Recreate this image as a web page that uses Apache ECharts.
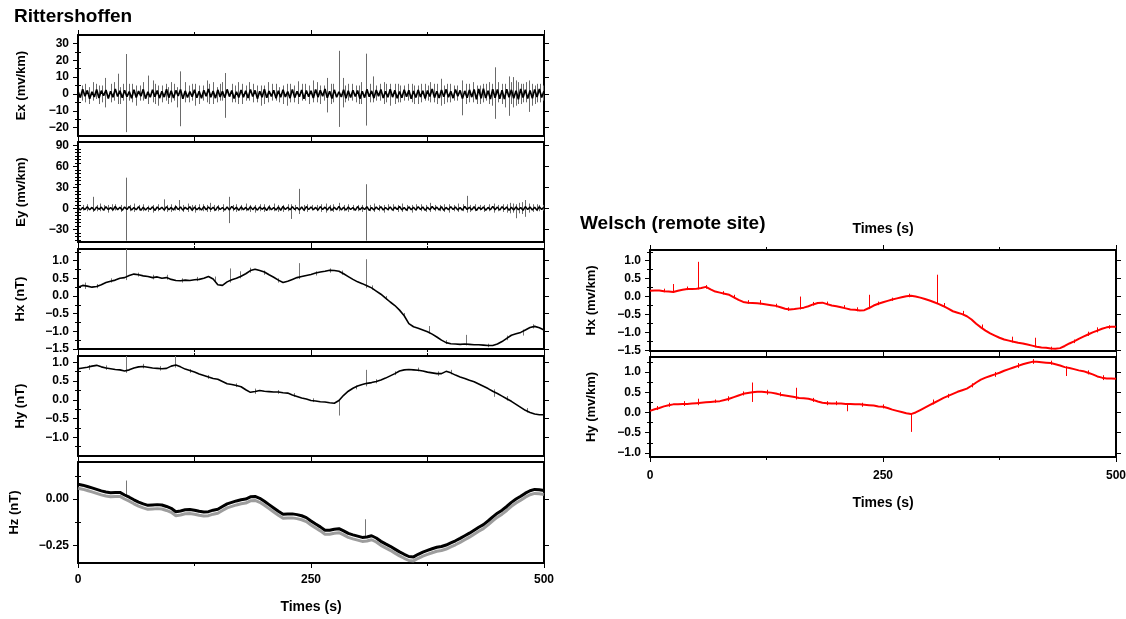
<!DOCTYPE html>
<html><head><meta charset="utf-8">
<script src="https://cdn.jsdelivr.net/npm/echarts@6/dist/echarts.min.js"></script>
<style>html,body{margin:0;padding:0;background:#fff}#c{width:1126px;height:619px}</style>
</head><body><div id="c"></div><script>
// ---------------- DATA ----------------
const STEP_E = 2.5;   // seconds between E samples
const STEP_H = 5;     // seconds between H samples

const EX_NOISE = [
1.5,-2.2,2.8,-1.4,2.1,-2.9,1.2,-1.8,2.6,-2.4,1.9,-1.1,2.3,-2.7,1.6,-2.0,2.9,-1.5,1.8,-2.3,
2.2,-1.7,1.4,-2.6,2.5,-2.1,1.7,-1.3,2.7,-2.8,1.3,-2.0,2.4,-1.6,2.0,-2.5,1.5,-1.9,2.8,-2.2,
1.9,-2.4,2.1,-1.2,2.6,-2.9,1.8,-2.1,1.4,-1.7,2.5,-2.3,1.6,-2.6,2.2,-1.4,2.9,-2.0,1.7,-2.5,
2.4,-1.8,1.5,-2.2,2.7,-1.6,2.0,-2.7,1.3,-2.1,2.3,-1.9,1.8,-2.4,2.6,-1.5,2.1,-2.8,1.6,-2.0,
2.8,-2.3,1.7,-1.5,2.2,-2.6,1.9,-2.0,2.5,-1.8,1.4,-2.5,2.7,-2.2,1.5,-1.7,2.3,-2.9,2.0,-1.6,
1.8,-2.4,2.6,-1.9,2.1,-1.4,2.9,-2.3,1.6,-2.7,2.4,-2.0,1.3,-1.8,2.5,-2.6,1.9,-2.1,2.2,-1.5,
2.0,-2.8,1.6,-2.2,2.7,-1.7,1.8,-2.5,2.3,-1.3,2.6,-2.4,1.5,-2.0,2.8,-1.9,2.1,-2.6,1.4,-2.3,
2.5,-1.6,2.2,-2.9,1.7,-2.1,2.4,-1.8,1.9,-2.7,2.0,-1.5,2.9,-2.2,1.6,-2.4,2.3,-1.7,2.7,-2.0,
1.5,-2.5,2.6,-1.4,2.1,-2.8,1.8,-2.3,2.4,-1.9,2.7,-3.2,2.9,-2.6,3.1,-2.4,1.9,-3.0,2.8,-2.3,
2.6,-2.9,2.2,-3.1,2.8,-2.0,2.4,-2.6,1.9,-3.2,2.9,-2.1,2.5,-2.8,2.1,-2.6,2.7,-1.9,2.9,-2.1,
1.7];

const EY_NOISE = [
1.8,-2.4,1.2,-1.6,2.6,-2.0,1.5,-2.8,2.2,-1.3,1.9,-2.5,2.4,-1.7,1.4,-2.2,2.9,-1.9,1.6,-2.6,
2.1,-1.5,2.7,-2.3,1.3,-1.8,2.5,-2.7,1.8,-2.1,1.4,-1.6,2.3,-2.9,2.0,-1.4,1.7,-2.4,2.6,-1.9,
1.5,-2.2,2.8,-1.7,2.1,-2.5,1.6,-1.3,2.4,-2.6,1.9,-2.0,1.2,-2.3,2.7,-1.8,2.2,-1.5,1.8,-2.8,
2.5,-1.6,1.3,-2.4,2.0,-2.1,2.9,-1.4,1.7,-2.7,2.3,-1.9,1.5,-2.2,2.6,-1.7,1.9,-2.5,2.1,-1.3,
1.6,-2.9,2.4,-1.8,1.4,-2.3,2.2,-2.6,2.8,-1.5,1.8,-2.0,2.5,-1.6,1.3,-2.4,2.0,-2.8,2.7,-1.7,
2.2,-1.9,1.5,-2.5,2.6,-1.4,1.9,-2.2,2.3,-2.7,1.6,-1.8,2.9,-2.1,1.7,-2.4,2.1,-1.5,1.4,-2.6,
2.7,-2.0,1.8,-1.6,2.4,-2.9,1.5,-2.3,2.0,-1.7,2.6,-2.2,1.3,-1.9,2.2,-2.5,1.9,-1.4,2.8,-2.1,
1.4,-2.6,2.3,-1.8,1.7,-2.4,2.5,-1.5,2.1,-2.8,1.6,-2.0,2.7,-1.3,1.9,-2.3,2.4,-2.7,1.5,-1.9,
2.6,-1.7,2.0,-2.2,1.3,-2.5,2.8,-1.6,1.8,-2.1,2.4,-2.9,1.7,-1.4,2.2,-2.6,1.5,-2.0,2.9,-1.8,
1.9,-2.4,2.5,-1.5,2.1,-2.7,1.6,-2.3,2.3,-1.9,1.4,-2.6,2.7,-1.7,2.0,-2.2,1.8,-2.5,2.4,-1.6,
2.0];

// spikes: [time, low, high]
const EX_SPIKES = [[4,-4,5],[8,-5,6],[12,-6,4],[16,-4,7],[19,-3,6],[22,-6,5],[26,-5,5],[29,-8,9.5],[35,-5,6],[39,-4,7],[43,-6,12],[45,-6,4],[48,-4,6],[52,-22.7,23.7],[55,-4,6],[58,-5,6],[62,-7,5],[66,-4,5],[70,-4,7],[75,-6,10.9],[80,-5,8],[83,-6,6],[86,-7,5],[90,-5,5],[94,-4,6],[97,-6,4],[100,-5,7],[103,-4,6],[106,-8,4],[109,-19.2,13.4],[115,-5,7],[119,-5,5],[122,-4,6],[126,-7,6],[130,-6,5],[134,-4,5],[138,-5,8],[141,-6,6],[145,-6,7],[149,-5,4],[152,-4,6],[155,-4,7],[158,-14.2,12.4],[165,-5,6],[168,-5,5],[172,-6,7],[176,-6,6],[180,-4,5],[184,-4,7],[188,-5,6],[192,-5,5],[196,-7,5],[200,-6,5],[204,-5,7],[208,-4,6],[212,-4,6],[216,-5,4],[220,-6,5],[224,-7,6],[228,-5,6],[232,-5,5],[236,-6,7.5],[240,-4,6],[244,-4,6],[248,-6,5],[252,-5,8],[256,-5,7],[260,-6,5],[264,-4,5],[267,-11,9.5],[271,-6,6],[274,-5,6],[280,-19.6,25.6],[284,-8,9.5],[287,-5,5],[290,-4,6],[294,-4,6],[298,-5,5],[301,-6,5],[304,-6,7],[309,-18.8,23.9],[313,-5,6],[317,-5,10.4],[320,-4,5],[324,-4,6],[328,-6,7],[331,-5,6],[335,-7,6],[340,-6,6],[343,-5,6],[346,-5,5],[350,-4,5],[354,-4,6],[358,-5,6],[361,-6,5],[365,-6,5],[368,-5,6],[372,-4,6],[375,-4,5],[378,-5,7],[382,-5,6],[385,-6,6],[390,-7,9],[393,-6,5],[396,-5,6],[399,-5,6],[403,-4,5],[407,-4,5],[412,-12.7,8],[416,-6,6],[420,-5,6],[424,-5,7],[428,-6,5],[431,-6,5],[435,-5,6],[438,-4,6],[441,-6,7],[444,-7,6],[447,-14.8,15.8],[451,-5,7],[455,-6,6],[458,-8,6],[462,-13,10.4],[465,-6,7],[467,-8,10],[470,-7,8],[472,-6,7],[475,-6,6],[478,-5,6],[481,-5,7],[484,-10.7,8],[487,-7,6],[490,-6,5],[493,-5,6],[496,-5,6],[499,-4,5]];

const EY_SPIKES = [[5,-3,5],[10,-4,6],[16,-5,16.6],[20,-4,5],[24,-4,7],[28,-3,5],[32,-6,5],[36,-4,6],[40,-3,6],[46,-5,5],[52,-46,44],[56,-4,5],[60,-5,7],[65,-3,5],[70,-4,6],[75,-5,4],[80,-6,5],[86,-4,6],[92,-4,13],[96,-5,5],[100,-5,6],[104,-3,5],[108,-4,12],[113,-5,5],[118,-5,7],[122,-4,5],[126,-6,5],[130,-3,6],[134,-4,6],[138,-5,5],[142,-5,8],[146,-4,5],[150,-4,5],[156,-5,6],[162,-21,16.6],[166,-4,5],[170,-5,6],[175,-3,5],[180,-4,7],[185,-5,5],[190,-6,5],[195,-4,6],[200,-5,6],[205,-3,5],[210,-4,7],[215,-5,5],[220,-5,5],[225,-4,6],[229,-15,6],[233,-4,5],[237,-8,28],[242,-4,5],[246,-5,6],[251,-3,5],[256,-4,5],[261,-5,6],[266,-6,7],[270,-4,5],[274,-5,6],[280,-4,8],[285,-4,5],[290,-5,6],[295,-3,5],[300,-4,5],[305,-5,5],[309,-46,34.6],[313,-4,5],[318,-5,7],[323,-4,5],[328,-6,5],[333,-3,6],[338,-4,6],[343,-5,5],[348,-5,7],[353,-4,5],[358,-6,5],[363,-3,6],[368,-4,6],[373,-5,5],[378,-5,8],[383,-4,5],[388,-4,5],[393,-5,6],[398,-6,6],[403,-4,5],[408,-5,7],[413,-4,6],[417,-6,18],[421,-5,5],[426,-4,6],[431,-3,5],[436,-5,5],[441,-4,6],[446,-6,7],[451,-4,5],[456,-5,6],[460,-6,6],[463,-7,8],[467,-6,7],[470,-14,6],[473,-7,8],[476,-8,9],[480,-12,12],[484,-6,7],[488,-5,6],[492,-4,6],[495,-4,5],[499,-3,5]];

const HX_R = [
0.25,0.30,0.28,0.25,0.27,0.32,0.38,0.42,0.45,0.50,
0.52,0.58,0.62,0.60,0.57,0.55,0.52,0.54,0.50,0.52,
0.47,0.44,0.43,0.45,0.44,0.46,0.47,0.50,0.55,0.48,
0.32,0.30,0.40,0.46,0.50,0.56,0.63,0.72,0.76,0.72,
0.68,0.60,0.53,0.45,0.38,0.42,0.47,0.52,0.55,0.58,
0.61,0.65,0.68,0.70,0.73,0.72,0.70,0.63,0.55,0.47,
0.40,0.35,0.29,0.23,0.14,0.05,-0.06,-0.17,-0.27,-0.40,
-0.56,-0.78,-0.87,-0.91,-0.96,-1.01,-1.08,-1.16,-1.25,-1.32,
-1.35,-1.36,-1.37,-1.36,-1.37,-1.38,-1.38,-1.39,-1.40,-1.40,
-1.36,-1.29,-1.20,-1.11,-1.07,-1.03,-0.96,-0.89,-0.86,-0.90,
-0.96];
const HX_R_SPIKES = [[8,0.2,0.38],[20,0.22,0.34],[35,0.38,0.5],[52,0.45,1.33],[64,0.55,0.66],[80,0.47,0.6],[96,0.46,0.6],[112,0.38,0.5],[128,0.42,0.54],[147,0.42,0.55],[163,0.38,0.78],[174,0.5,0.7],[185,0.66,0.8],[200,0.6,0.72],[215,0.38,0.5],[237,0.48,0.93],[255,0.58,0.7],[270,0.66,0.78],[283,0.6,0.72],[309,0.22,1.04],[315,0.18,0.3],[330,-0.1,0.0],[350,-0.6,-0.48],[377,-1.06,-0.85],[395,-1.36,-1.25],[416,-1.4,-1.1],[440,-1.45,-1.35],[460,-1.25,-1.12],[477,-1.12,-0.95],[488,-0.92,-0.8]];

const HY_R = [
0.83,0.85,0.87,0.90,0.92,0.88,0.85,0.83,0.81,0.80,
0.77,0.80,0.85,0.88,0.89,0.87,0.85,0.84,0.83,0.84,
0.90,0.93,0.88,0.82,0.78,0.74,0.69,0.65,0.61,0.57,
0.55,0.49,0.43,0.41,0.38,0.35,0.27,0.20,0.22,0.25,
0.23,0.22,0.21,0.21,0.19,0.18,0.13,0.09,0.05,0.02,
-0.02,-0.03,-0.05,-0.06,-0.08,-0.09,-0.02,0.12,0.23,0.31,
0.37,0.41,0.44,0.46,0.49,0.53,0.58,0.64,0.70,0.77,
0.80,0.81,0.80,0.79,0.77,0.74,0.72,0.70,0.70,0.76,
0.72,0.66,0.61,0.57,0.52,0.48,0.42,0.36,0.30,0.23,
0.17,0.10,0.03,-0.04,-0.12,-0.20,-0.28,-0.34,-0.38,-0.40,
-0.40];
const HY_R_SPIKES = [[12,0.8,0.93],[30,0.8,0.92],[52,0.72,1.17],[70,0.84,0.96],[88,0.78,0.9],[104,0.86,1.17],[120,0.72,0.82],[140,0.56,0.66],[170,0.34,0.44],[190,0.16,0.3],[215,0.16,0.26],[232,0.08,0.18],[252,-0.06,0.04],[280,-0.42,0.0],[298,0.28,0.38],[309,0.36,0.8],[320,0.44,0.55],[340,0.66,0.76],[365,0.76,0.86],[386,0.64,0.76],[400,0.68,0.8],[446,0.08,0.28],[460,-0.02,0.1],[482,-0.34,-0.22]];

const HZ_R = [
0.080,0.075,0.068,0.060,0.052,0.044,0.038,0.034,0.035,0.036,
0.022,0.010,-0.004,-0.016,-0.026,-0.034,-0.032,-0.030,-0.032,-0.040,
-0.050,-0.068,-0.064,-0.058,-0.056,-0.060,-0.066,-0.070,-0.068,-0.060,
-0.055,-0.040,-0.026,-0.018,-0.010,-0.004,0.000,0.012,0.014,0.004,
-0.012,-0.030,-0.048,-0.066,-0.082,-0.080,-0.080,-0.084,-0.090,-0.100,
-0.118,-0.135,-0.150,-0.168,-0.168,-0.163,-0.160,-0.172,-0.185,-0.193,
-0.200,-0.207,-0.205,-0.198,-0.210,-0.228,-0.242,-0.255,-0.270,-0.285,
-0.298,-0.310,-0.312,-0.298,-0.286,-0.277,-0.268,-0.260,-0.256,-0.248,
-0.236,-0.225,-0.212,-0.198,-0.184,-0.168,-0.152,-0.138,-0.118,-0.096,
-0.076,-0.060,-0.040,-0.018,0.000,0.015,0.032,0.045,0.052,0.050,
0.046];
const HZ_R_SPIKES = [[52,0.01,0.1],[308,-0.21,-0.109]];

const HX_W = [
0.16,0.17,0.17,0.15,0.14,0.13,0.16,0.19,0.21,0.21,
0.22,0.24,0.27,0.20,0.14,0.11,0.08,0.05,-0.02,-0.09,
-0.15,-0.17,-0.18,-0.19,-0.20,-0.22,-0.24,-0.26,-0.30,-0.34,
-0.36,-0.35,-0.33,-0.31,-0.27,-0.22,-0.18,-0.17,-0.21,-0.25,
-0.27,-0.30,-0.33,-0.36,-0.37,-0.39,-0.38,-0.32,-0.25,-0.20,
-0.16,-0.12,-0.08,-0.05,-0.02,0.01,0.02,0.00,-0.03,-0.07,
-0.11,-0.16,-0.21,-0.27,-0.34,-0.41,-0.45,-0.49,-0.55,-0.64,
-0.76,-0.86,-0.95,-1.03,-1.09,-1.15,-1.20,-1.23,-1.26,-1.29,
-1.31,-1.34,-1.37,-1.40,-1.42,-1.43,-1.45,-1.46,-1.44,-1.38,
-1.31,-1.25,-1.18,-1.12,-1.06,-1.00,-0.95,-0.90,-0.86,-0.84,
-0.84];
const HX_W_SPIKES = [[15,0.12,0.22],[25,0.1,0.35],[40,0.18,0.28],[51,0.2,0.97],[60,0.22,0.32],[78,0.06,0.15],[90,-0.05,0.05],[105,-0.2,-0.1],[118,-0.22,-0.1],[135,-0.3,-0.2],[148,-0.4,-0.3],[161,-0.36,0.0],[175,-0.25,-0.15],[190,-0.24,-0.14],[208,-0.34,-0.24],[222,-0.41,-0.3],[235,-0.35,0.05],[245,-0.24,-0.14],[260,-0.12,-0.03],[278,-0.02,0.08],[308,-0.2,0.61],[315,-0.3,-0.18],[336,-0.52,-0.4],[356,-0.9,-0.78],[388,-1.28,-1.12],[413,-1.42,-1.15],[430,-1.48,-1.4],[455,-1.3,-1.2],[470,-1.1,-0.98],[480,-1.0,-0.86],[492,-0.9,-0.8]];

const HY_W = [
0.04,0.08,0.11,0.15,0.18,0.20,0.20,0.21,0.21,0.22,
0.23,0.24,0.25,0.26,0.27,0.28,0.31,0.34,0.38,0.42,
0.46,0.48,0.50,0.51,0.51,0.50,0.49,0.47,0.44,0.42,
0.40,0.38,0.36,0.35,0.34,0.31,0.27,0.24,0.23,0.22,
0.22,0.22,0.21,0.21,0.20,0.20,0.19,0.18,0.17,0.15,
0.14,0.11,0.07,0.04,0.01,-0.02,-0.04,0.00,0.06,0.12,
0.18,0.24,0.30,0.36,0.41,0.46,0.51,0.55,0.59,0.66,
0.74,0.81,0.86,0.90,0.94,0.98,1.03,1.07,1.11,1.15,
1.19,1.22,1.25,1.25,1.24,1.23,1.22,1.19,1.16,1.12,
1.10,1.07,1.04,1.02,0.98,0.94,0.89,0.86,0.84,0.84,
0.83];
const HY_W_SPIKES = [[8,0.06,0.16],[20,0.14,0.24],[36,0.16,0.28],[52,0.18,0.34],[70,0.24,0.32],[84,0.28,0.4],[100,0.42,0.52],[109,0.26,0.74],[125,0.44,0.56],[140,0.4,0.5],[157,0.32,0.61],[175,0.26,0.36],[190,0.18,0.28],[200,0.18,0.28],[211,0.03,0.22],[228,0.14,0.24],[250,0.1,0.2],[280,-0.48,-0.02],[304,0.2,0.32],[320,0.36,0.46],[345,0.62,0.72],[370,0.88,1.0],[395,1.1,1.22],[411,1.2,1.32],[430,1.18,1.28],[446,0.9,1.14],[470,0.94,1.04],[486,0.8,0.92]];

// tick values (labels) and minor ticks
const X_TICKS = [0, 250, 500];
const EX_MAJOR = [-20,-10,0,10,20,30];
const EX_MINOR = [-15,-5,5,15,25];
const EY_MAJOR = [-30,0,30,60,90];
const EY_MINOR = [-45,-40,-35,-25,-20,-15,-10,-5,5,10,15,20,25,35,40,45,50,55,65,70,75,80,85];
const HX_MAJOR = [-1.5,-1.0,-0.5,0.0,0.5,1.0];
const HX_MINOR = [-1.25,-0.75,-0.25,0.25,0.75,1.25];
const HY_MAJOR = [-1.0,-0.5,0.0,0.5,1.0];
const HY_MINOR = [-1.25,-0.75,-0.25,0.25,0.75];
const HZ_MAJOR = [-0.25,0.0];
const HZ_MINOR = [-0.125,0.125];
const WHY_MINOR = [-0.75,-0.25,0.25,0.75,1.25];

// ---------------- CHART ----------------
const TF = 'Liberation Sans, Arial, Helvetica, sans-serif';
const LX = 78, RX = 650, PW = 466;

const panels = [
 {side:LX, top:35,  h:101, min:-25, max:35, major:EX_MAJOR, minor:EX_MINOR, dec:0, name:'Ex (mv/km)', gap:50, data:EX_NOISE, step:STEP_E, color:'#000', width:1.7, spikes:EX_SPIKES, sc:'#6a6a6a'},
 {side:LX, top:142, h:100, min:-48, max:95, major:EY_MAJOR, minor:EY_MINOR, dec:0, name:'Ey (mv/km)', gap:50, data:EY_NOISE, step:STEP_E, color:'#000', width:1.5, spikes:EY_SPIKES, sc:'#6a6a6a'},
 {side:LX, top:249, h:100, min:-1.5, max:1.33, major:HX_MAJOR, minor:HX_MINOR, dec:1, name:'Hx (nT)', gap:51, data:HX_R, step:STEP_H, color:'#000', width:1.6, spikes:HX_R_SPIKES, sc:'#777'},
 {side:LX, top:356, h:100, min:-1.5, max:1.17, major:HY_MAJOR, minor:HY_MINOR, dec:1, name:'Hy (nT)', gap:51, data:HY_R, step:STEP_H, color:'#000', width:1.6, spikes:HY_R_SPIKES, sc:'#777'},
 {side:LX, top:462, h:101, min:-0.345, max:0.2, major:HZ_MAJOR, minor:HZ_MINOR, dec:2, name:'Hz (nT)', gap:57, data:HZ_R, step:STEP_H, color:'#000', width:3, spikes:HZ_R_SPIKES, sc:'#777', shadow:true, bottomName:'Times (s)', bottomGap:37, labelMargin:11},
 {side:RX, top:250, h:101, min:-1.52, max:1.3, major:HX_MAJOR, minor:HX_MINOR, dec:1, name:'Hx (mv/km)', gap:52, data:HX_W, step:STEP_H, color:'#ff0000', width:2, spikes:HX_W_SPIKES, sc:'#ff0000', topName:'Times (s)'},
 {side:RX, top:357, h:100, min:-1.1, max:1.37, major:HY_MAJOR, minor:WHY_MINOR, dec:1, name:'Hy (mv/km)', gap:52, data:HY_W, step:STEP_H, color:'#ff0000', width:2, spikes:HY_W_SPIKES, sc:'#ff0000', bottomName:'Times (s)', bottomGap:39, labelMargin:13}
];

function fmt(dec){
  return function(v){
    const s = Math.abs(v).toFixed(dec);
    return (v < -1e-9 ? '\u2212' : '') + s;
  };
}
function spikeItem(color){
  return function(params, api){
    const t = api.value(0);
    const a = api.coord([t, api.value(1)]);
    const b = api.coord([t, api.value(2)]);
    const x = Math.round(a[0]) + 0.5;
    return {type:'line', shape:{x1:x, y1:a[1], x2:x, y2:b[1]}, style:{stroke:color, lineWidth:1}};
  };
}

const grid = [], xAxis = [], yAxis = [], series = [];
const AX = {color:'#000', width:2};
const nameStyle = {fontFamily:TF, fontWeight:'bold', fontSize:14, color:'#000'};

panels.forEach((p, i) => {
  grid.push({left:p.side, top:p.top, width:PW, height:p.h, containLabel:false, outerBoundsMode:'none'});
  const showX = !!p.bottomName;
  const baseX = {
    type:'value', gridIndex:i, min:0, max:500, interval:250,
    axisLine:{show:true, onZero:false, lineStyle:AX},
    axisTick:{show:true, length:5, lineStyle:{color:'#000', width:1}},
    minorTick:{show:true, splitNumber:2, length:3, lineStyle:{color:'#000', width:1}},
    splitLine:{show:false}, minorSplitLine:{show:false}
  };
  xAxis.push(Object.assign({}, baseX, {
    position:'bottom',
    axisLabel:{show:showX, customValues:X_TICKS, margin:p.labelMargin || 10, fontFamily:TF, fontWeight:'bold', fontSize:12, color:'#000'},
    name: p.bottomName || '', nameLocation:'middle', nameGap:p.bottomGap || 30, nameTextStyle:nameStyle
  }));
  xAxis.push(Object.assign({}, baseX, {
    position:'top', axisLabel:{show:false},
    name: p.topName || '', nameLocation:'middle', nameGap:14, nameTextStyle:nameStyle
  }));
  const baseY = {type:'value', gridIndex:i, min:p.min, max:p.max, splitLine:{show:false}};
  yAxis.push(Object.assign({}, baseY, {
    position:'left',
    axisLine:{show:true, onZero:false, lineStyle:AX},
    axisTick:{show:true, customValues:p.major, length:5, lineStyle:{color:'#000', width:1}},
    axisLabel:{show:true, customValues:p.major, formatter:fmt(p.dec), margin:9, fontFamily:TF, fontWeight:'bold', fontSize:12, color:'#000'},
    name:p.name, nameLocation:'middle', nameGap:p.gap, nameRotate:90,
    nameTextStyle:{fontFamily:TF, fontWeight:'bold', fontSize:13, color:'#000'}
  }));
  yAxis.push(Object.assign({}, baseY, {
    position:'left', axisLine:{show:false},
    axisTick:{show:true, customValues:p.minor, length:3, lineStyle:{color:'#000', width:1}},
    axisLabel:{show:false}
  }));
  yAxis.push(Object.assign({}, baseY, {
    position:'right',
    axisLine:{show:true, onZero:false, lineStyle:AX},
    axisTick:{show:true, customValues:p.major, length:5, lineStyle:{color:'#000', width:1}},
    axisLabel:{show:false}
  }));
  yAxis.push(Object.assign({}, baseY, {
    position:'right', axisLine:{show:false},
    axisTick:{show:true, customValues:p.minor, length:3, lineStyle:{color:'#000', width:1}},
    axisLabel:{show:false}
  }));

  series.push({
    type:'custom', xAxisIndex:2*i, yAxisIndex:4*i, silent:true, animation:false, z:2,
    renderItem:spikeItem(p.sc), encode:{x:0, y:[1,2]}, data:p.spikes, clip:true
  });
  const ls = {color:p.color, width:p.width};
  if (p.shadow) { ls.shadowColor = 'rgba(140,140,140,0.85)'; ls.shadowOffsetY = 4; ls.shadowBlur = 0; }
  series.push({
    type:'line', xAxisIndex:2*i, yAxisIndex:4*i, silent:true, animation:false, z:3,
    showSymbol:false, symbol:'none', clip:true, lineStyle:ls,
    data:p.data.map((v, k) => [k * p.step, v])
  });
});

const option = {
  backgroundColor:'#fff',
  animation:false,
  title:[
    {text:'Rittershoffen', left:14, top:7, padding:0, textStyle:{fontFamily:TF, fontWeight:'bold', fontSize:19, color:'#000'}},
    {text:'Welsch (remote site)', left:580, top:214, padding:0, textStyle:{fontFamily:TF, fontWeight:'bold', fontSize:19, color:'#000'}}
  ],
  grid, xAxis, yAxis, series
};
const chart = echarts.init(document.getElementById('c'), null, {renderer:'canvas'});
chart.setOption(option);
</script></body></html>
